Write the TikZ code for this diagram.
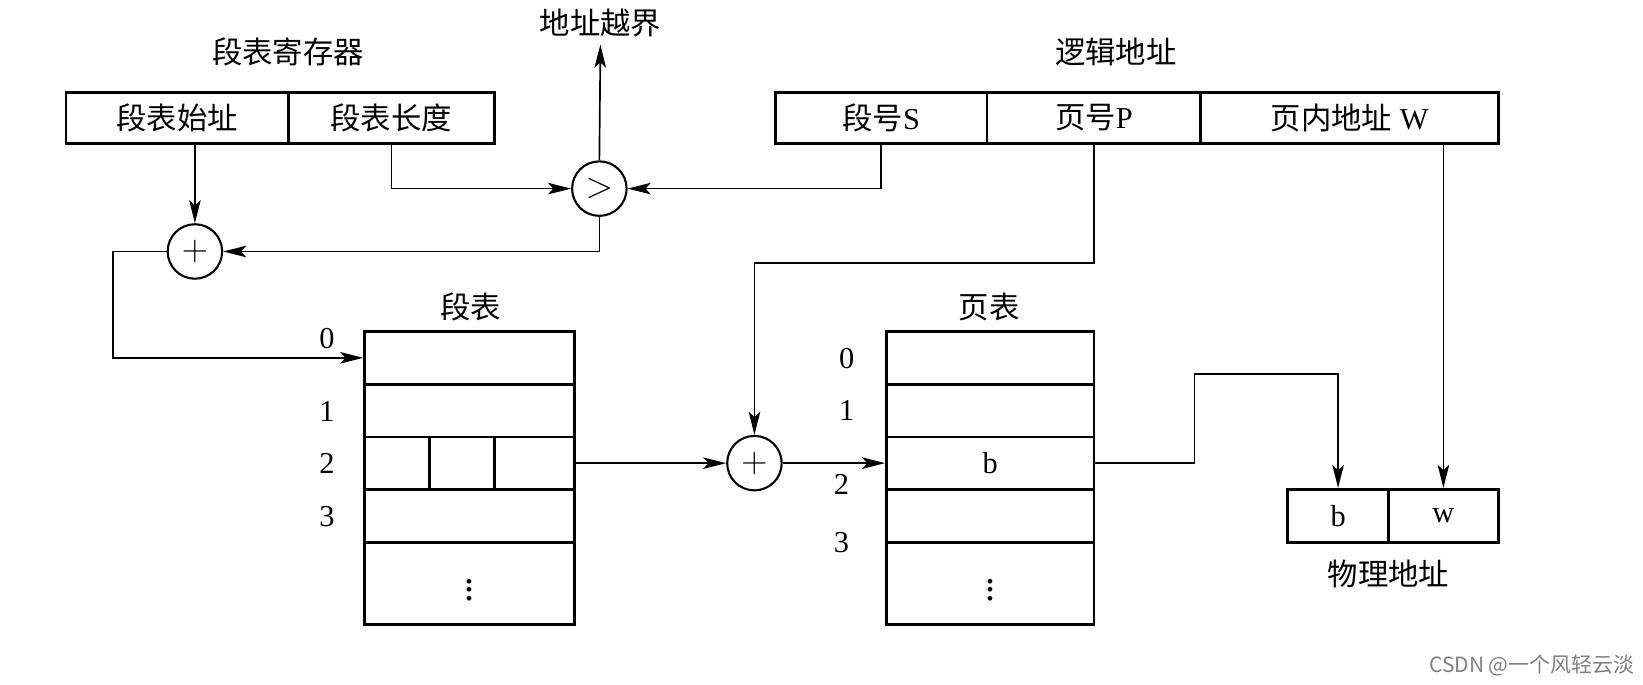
\documentclass[tikz,border=0pt]{standalone}
\usepackage{fontspec}
\setmainfont{Liberation Serif}
\newfontfamily\cjk{Noto Sans CJK SC}
\usetikzlibrary{arrows.meta}

\begin{document}
\begin{tikzpicture}[
            x=0.5pt, y=-0.5pt,
            every node/.style={font=\fontsize{14.5}{16}\selectfont},
            regbox/.style={draw, line width=1.3pt, minimum height=24.5pt, inner sep=0pt},
            tabrow/.style={draw, line width=1.3pt, minimum height=25pt, inner sep=0pt},
            joint/.style={draw, circle, line width=1pt, minimum size=26pt, inner sep=0pt, font=\fontsize{17}{17}\selectfont},
            link/.style={line width=0.8pt, -{Stealth[length=11pt, width=5.5pt, inset=2.5pt]}},
            heading/.style={font=\fontsize{14.5}{16}\selectfont\cjk},
            dots/.style={font=\fontsize{19}{19}\selectfont}
        ]
            \useasboundingbox (0,0) rectangle (1568,653);

            % segment table register
            \node[regbox, minimum width=106pt] (start) at (169,112.5) {\cjk 段表始址};
            \node[regbox, minimum width=98.5pt] (len) at (373.5,112.5) {\cjk 段表长度};
            \node[heading] (reg) at (275,50) {段表寄存器};

            % logical address
            \node[regbox, minimum width=101pt] (sno) at (841,112.5) {{\cjk 段号}S};
            \node[regbox, minimum width=102pt] (pno) at (1044,112.5) {{\cjk 页号}P};
            \node[regbox, minimum width=142pt] (wno) at (1288,112.5) {{\cjk 页内地址} W};
            \node[heading] (logic) at (1065,50) {逻辑地址};

            % comparator and adders
            \node[joint] (cmp) at (572,180) {$>$};
            \node[joint] (add1) at (186,240) {$+$};
            \node[joint] (add2) at (720,442) {$+$};
            \node[heading] (oob) at (573,22) {地址越界};

            % segment table
            \foreach \y [count=\i from 0] in {341.5, 392, 442, 492.5}{
                \node[tabrow, minimum width=100pt] (s\i) at (448,\y) {};
            }
            \node[tabrow, minimum width=100pt, minimum height=39pt, dots] (s4) at (448,557) {$\vdots$};
            \draw[line width=1.3pt] ([xshift=31.5pt]s2.north west) -- ([xshift=31.5pt]s2.south west);
            \draw[line width=1.3pt] ([xshift=62.5pt]s2.north west) -- ([xshift=62.5pt]s2.south west);
            \node[heading] (stab) at (449,293) {段表};
            \foreach \y [count=\i from 0] in {323, 393, 442, 493}{
                \node (si\i) at (312,\y) {\i};
            }

            % page table
            \foreach \y [count=\i from 0] in {341.5, 392, 442, 492.5}{
                \node[tabrow, minimum width=99pt] (p\i) at (945,\y) {};
            }
            \node[tabrow, minimum width=99pt, minimum height=39pt, dots] (p4) at (945,557) {$\vdots$};
            \node (bval) at (p2) {b};
            \node[heading] (ptab) at (944,293) {页表};
            \foreach \x/\y [count=\i from 0] in {808/342, 808/392, 803/462, 803/518}{
                \node (pi\i) at (\x,\y) {\i};
            }

            % physical address
            \node[regbox, minimum width=48pt, minimum height=25.5pt] (pb) at (1277,492.5) {b};
            \node[regbox, minimum width=52.5pt, minimum height=25.5pt] (pw) at (1377.5,492.5) {w};
            \node[heading] (phys) at (1325,548) {物理地址};

            % arrows
            \draw[link] (add1.north |- start.south) -- (add1.north);
            \draw[link] (len.south) |- (cmp.west);
            \draw[link] (sno.south) |- (cmp.east);
            \draw[link] (cmp.north) -- (oob.south);
            \draw[link] (cmp.south) |- (add1.east);
            \coordinate (turn1) at (108,240);
            \draw[link] (add1.west) -- (turn1) |- (s0.west);
            \draw[link] (s2.east) -- (add2.west);
            \draw[link] (pno.south) -- ++(0,113) -| (add2.north);
            \draw[link] (add2.east) -- (p2.west);
            \coordinate (turn2) at (1140,357);
            \draw[link] (p2.east) -| (turn2) -| (pb.north);
            \draw[link] (pw.north |- wno.south) -- (pw.north);

            % watermark
            \node[text=gray, font=\fontsize{10}{12}\selectfont\cjk] (mark) at (1462,635) {CSDN @一个风轻云淡};

        \end{tikzpicture}
\end{document}
